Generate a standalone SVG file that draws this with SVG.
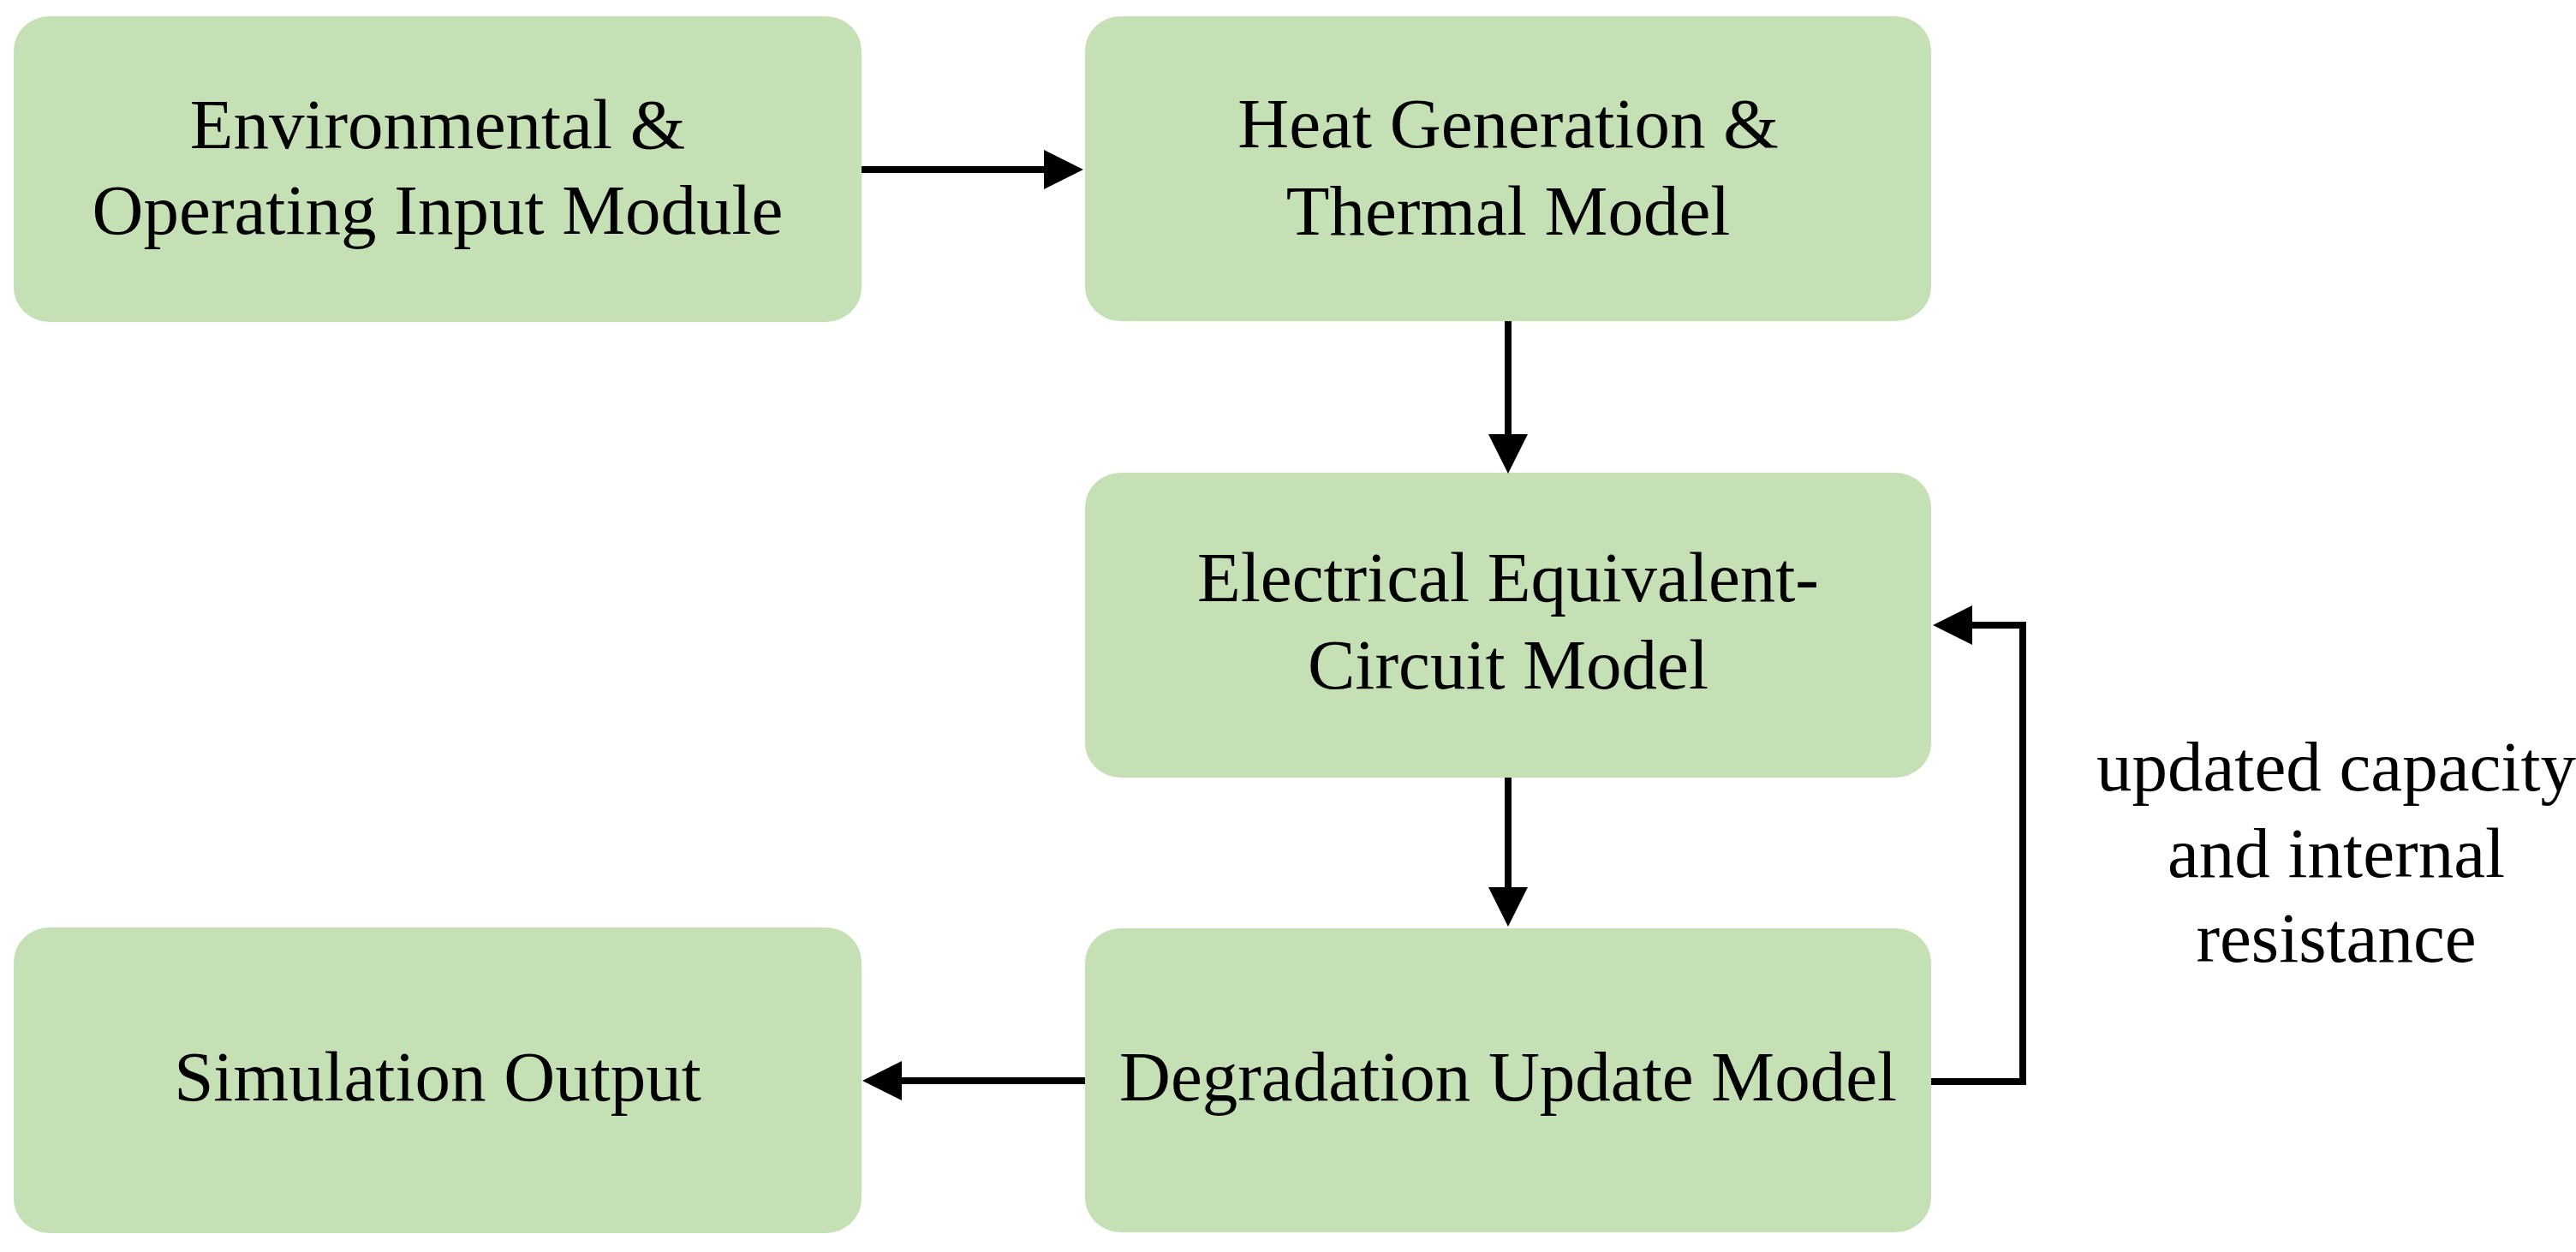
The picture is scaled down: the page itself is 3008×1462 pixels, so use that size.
<svg xmlns="http://www.w3.org/2000/svg" width="3008" height="1462" viewBox="0 0 3008 1462">
<style>
.box{fill:#C5E0B4;}
.t{font-family:"Liberation Serif","Times New Roman",serif;font-size:83px;fill:#000;text-anchor:middle;}
.c{fill:none;stroke:#000;stroke-width:8;}
</style>
<defs>
<marker id="ah" markerUnits="userSpaceOnUse" markerWidth="46" markerHeight="46" refX="6" refY="23" orient="auto">
<path d="M0,0 L46,23 L0,46 z" fill="#000"/>
</marker>
</defs>
<rect width="3008" height="1462" fill="#fff"/>
<g id="env">
<rect class="box" x="16" y="19" width="990" height="357" rx="42" ry="40"/>
<text class="t" x="511" y="173">Environmental &amp;</text>
<text class="t" x="511" y="273">Operating Input Module</text>
</g>
<g id="heat">
<rect class="box" x="1267" y="19" width="988" height="356" rx="42" ry="40"/>
<text class="t" x="1761" y="172">Heat Generation &amp;</text>
<text class="t" x="1761" y="274">Thermal Model</text>
</g>
<g id="elec">
<rect class="box" x="1267" y="552" width="988" height="356" rx="42" ry="40"/>
<text class="t" x="1761" y="702">Electrical Equivalent-</text>
<text class="t" x="1761" y="804">Circuit Model</text>
</g>
<g id="degr">
<rect class="box" x="1267" y="1084" width="988" height="355" rx="42" ry="40"/>
<text class="t" x="1761" y="1285">Degradation Update Model</text>
</g>
<g id="sim">
<rect class="box" x="16" y="1083" width="990" height="357" rx="42" ry="40"/>
<text class="t" x="511" y="1285">Simulation Output</text>
</g>
<g id="connectors">
<path class="c" d="M1006,198 H1225" marker-end="url(#ah)"/>
<path class="c" d="M1761,375 V513" marker-end="url(#ah)"/>
<path class="c" d="M1761,908 V1042" marker-end="url(#ah)"/>
<path class="c" d="M1267,1262 H1047" marker-end="url(#ah)"/>
<path class="c" d="M2255,1263 H2362 V730 H2297" marker-end="url(#ah)"/>
</g>
<g id="feedback-label">
<text class="t" x="2728" y="923">updated capacity</text>
<text class="t" x="2728" y="1024">and internal</text>
<text class="t" x="2728" y="1123">resistance</text>
</g>
</svg>
